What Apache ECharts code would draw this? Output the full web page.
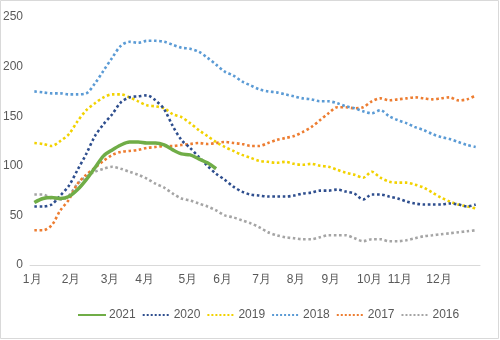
<!DOCTYPE html>
<html><head><meta charset="utf-8">
<script src="https://cdn.jsdelivr.net/npm/echarts@6/dist/echarts.min.js"></script>
<style>html,body{margin:0;padding:0;background:#fff}#c{width:500px;height:340px}</style>
</head><body><div id="c"></div>
<script>
// weekly categories (52 weeks)
const weekCats = Array.from({length: 52}, (_, i) => 'W' + (i + 1));
// month tick labels and their half-week slot positions (104 slots)
const monthLabels = ['1月','2月','3月','4月','5月','6月','7月','8月','9月','10月','11月','12月'];
const monthSlots = [0, 9, 18, 26, 36, 44, 53, 61, 69, 78, 85, 94];
const yTicks = [0, 50, 100, 150, 200, 250];

const years = ['2021','2020','2019','2018','2017','2016'];
const s2021 = [63,67,68,67,69,76,86,98,110,116,121,124,124,123,123,121,116,112,111,107,103,97];
const s2020 = [59,59,61,70,80,96,112,130,142,152,164,169,170,171,166,157,140,126,118,109,100,92,86,79,74,71,70,69,69,69,70,72,73,75,75,76,74,72,66,71,71,69,67,64,62,61,61,61,62,61,59,61];
const s2019 = [123,122,120,125,132,145,156,163,169,172,172,169,165,161,160,158,152,149,143,136,130,124,119,115,111,108,105,104,103,104,102,101,102,100,99,96,93,91,88,94,88,84,83,83,81,78,73,68,64,61,59,57];
const s2018 = [175,174,173,173,172,172,173,183,196,209,221,225,224,226,226,225,222,219,218,215,209,202,195,191,185,181,177,175,174,172,170,168,167,165,165,163,160,158,155,153,156,150,146,143,139,136,132,129,127,124,121,119];
const s2017 = [35,35,40,55,66,82,91,98,105,111,114,115,116,118,119,120,120,121,122,123,122,123,124,123,122,120,120,123,126,128,130,134,139,146,153,159,159,158,159,165,168,166,167,168,169,168,167,168,169,166,167,171];
const s2016 = [71,71,67,66,70,82,89,94,97,99,97,94,91,87,82,78,72,67,65,62,59,55,50,48,45,42,38,33,30,28,27,26,26,28,30,30,30,27,24,26,26,24,24,25,27,29,30,31,32,33,34,35];

const colors = {'2021':'#70AD47','2020':'#2E4E8E','2019':'#F2D200','2018':'#5B9BD5','2017':'#ED7D31','2016':'#A5A5A5'};
const dataMap = {'2021':s2021,'2020':s2020,'2019':s2019,'2018':s2018,'2017':s2017,'2016':s2016};

const slotCats = Array.from({length: 104}, () => '');
monthSlots.forEach((s, k) => { slotCats[s] = monthLabels[k]; });

const font = "'Liberation Sans Narrow','Liberation Sans','DejaVu Sans Condensed',sans-serif";
const drawOrder = ['2016','2017','2018','2019','2020','2021'];
const series = drawOrder.map(y => ({
  name: y, type: 'line', data: dataMap[y], symbol: 'none', showSymbol: false, smooth: 0.3,
  xAxisIndex: 0,
  lineStyle: y === '2021'
    ? {color: colors[y], width: 3.5, type: 'solid'}
    : {color: colors[y], width: 2.6, type: 'dotted', cap: 'butt'},
  itemStyle: {color: colors[y]},
  z: y === '2021' ? 5 : 2
}));

const chart = echarts.init(document.getElementById('c'), null, {renderer: 'canvas'});
chart.setOption({
  animation: false,
  backgroundColor: '#fff',
  graphic: [{type: 'rect', shape: {x: 0.5, y: 0.5, width: 498, height: 338}, style: {fill: 'none', stroke: '#d9d9d9', lineWidth: 1}, silent: true}],
  grid: {left: 30, right: 20, top: 17, bottom: 75, containLabel: false},
  legend: {
    data: years, bottom: 14, left: 72, itemWidth: 28, itemHeight: 10, itemGap: 6,
    itemStyle: {opacity: 0},
    textStyle: {color: '#595959', fontSize: 12, fontFamily: font, padding: [0, 0, 0, -2]}
  },
  xAxis: [
    {type: 'category', data: weekCats, boundaryGap: true, position: 'bottom',
     axisLine: {show: true, lineStyle: {color: '#d9d9d9', width: 1}},
     axisTick: {show: false}, axisLabel: {show: false}, splitLine: {show: false}},
    {type: 'category', data: slotCats, boundaryGap: true, position: 'bottom',
     axisLine: {show: false}, axisTick: {show: false}, splitLine: {show: false},
     axisLabel: {show: true, interval: 0, color: '#595959', fontSize: 12, fontFamily: font, margin: 9}}
  ],
  yAxis: {
    type: 'value', min: yTicks[0], max: yTicks[yTicks.length - 1], interval: 50,
    axisLine: {show: false}, axisTick: {show: false}, splitLine: {show: false},
    axisLabel: {color: '#595959', fontSize: 12, fontFamily: font, margin: 7}
  },
  series: series
});
</script></body></html>
